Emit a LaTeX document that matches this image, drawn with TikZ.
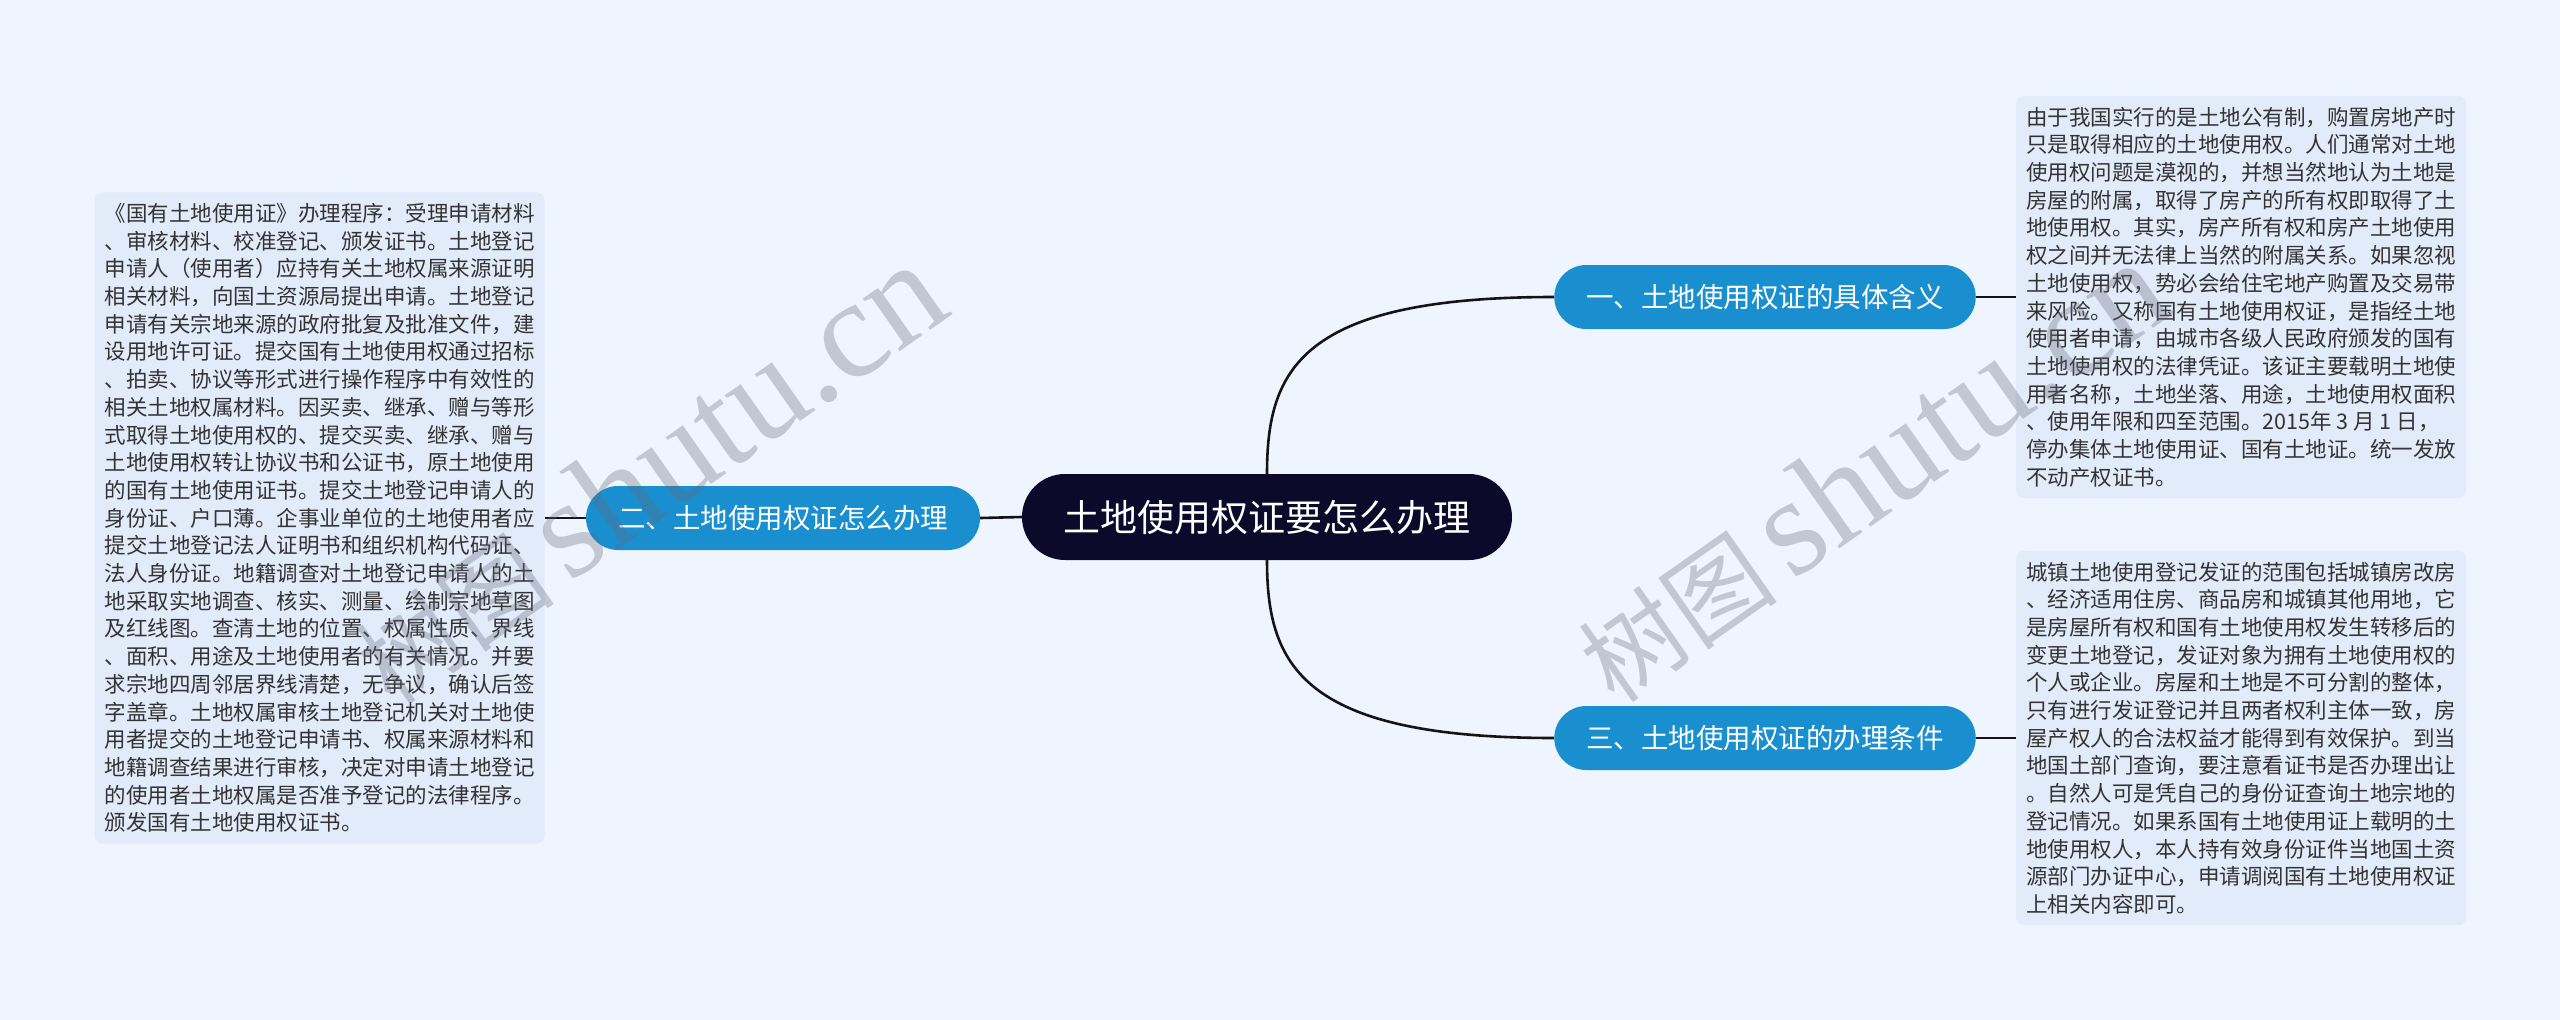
\documentclass[tikz,border=0pt]{standalone}
\usepackage{fontspec}
\setmainfont{Noto Sans CJK SC}
\newfontfamily\wmfont{Liberation Serif}
\usetikzlibrary{positioning}
\definecolor{bgblue}{HTML}{EFF5FE}
\definecolor{boxblue}{HTML}{E2EBFA}
\definecolor{nodeblue}{HTML}{1A8FD0}
\definecolor{rootnavy}{HTML}{0B0A2A}
\definecolor{txtgray}{HTML}{333333}
\definecolor{wmgray}{RGB}{100,104,118}
\begin{document}
\begin{tikzpicture}[x=1pt,y=-1pt]
    \tikzset{
      root/.style={fill=rootnavy,text=white,rounded corners=43pt,
        minimum width=490pt,minimum height=86pt,inner sep=0pt,
        font=\fontsize{37}{44}\selectfont},
      branch/.style={fill=nodeblue,text=white,rounded corners=32pt,
        minimum height=64pt,inner xsep=32pt,inner ysep=0pt,
        font=\fontsize{27.5}{33}\selectfont},
      textbox/.style={fill=boxblue,text=txtgray,rounded corners=8pt,
        align=left,inner xsep=10pt,inner ysep=11pt,
        font=\fontsize{21.5}{27.7}\selectfont},
      link/.style={line width=2.6pt,black!92},
      wm/.style={text=wmgray,text opacity=0.32,inner sep=0pt}
    }
        %BACKGROUND
        \fill[bgblue] (0,0) rectangle (2560,1020);
        \useasboundingbox (0,0) rectangle (2560,1020);

        %CENTRE AND BRANCHES
        \node[root] (root) at (1267,517) {土地使用权证要怎么办理};
        \node[branch] (b2) at (783,518) {二、土地使用权证怎么办理};
        \node[branch] (b1) at (1765,297) {一、土地使用权证的具体含义};
        \node[branch] (b3) at (1765,738) {三、土地使用权证的办理条件};

        %TEXT BOXES
        \node[textbox,left=41pt of b2] (t2) {《国有土地使用证》办理程序：受理申请材料\\
、审核材料、校准登记、颁发证书。土地登记\\
申请人（使用者）应持有关土地权属来源证明\\
相关材料，向国土资源局提出申请。土地登记\\
申请有关宗地来源的政府批复及批准文件，建\\
设用地许可证。提交国有土地使用权通过招标\\
、拍卖、协议等形式进行操作程序中有效性的\\
相关土地权属材料。因买卖、继承、赠与等形\\
式取得土地使用权的、提交买卖、继承、赠与\\
土地使用权转让协议书和公证书，原土地使用\\
的国有土地使用证书。提交土地登记申请人的\\
身份证、户口薄。企事业单位的土地使用者应\\
提交土地登记法人证明书和组织机构代码证、\\
法人身份证。地籍调查对土地登记申请人的土\\
地采取实地调查、核实、测量、绘制宗地草图\\
及红线图。查清土地的位置、权属性质、界线\\
、面积、用途及土地使用者的有关情况。并要\\
求宗地四周邻居界线清楚，无争议，确认后签\\
字盖章。土地权属审核土地登记机关对土地使\\
用者提交的土地登记申请书、权属来源材料和\\
地籍调查结果进行审核，决定对申请土地登记\\
的使用者土地权属是否准予登记的法律程序。\\
颁发国有土地使用权证书。};

        \node[textbox,right=40pt of b1] (t1) {由于我国实行的是土地公有制，购置房地产时\\
只是取得相应的土地使用权。人们通常对土地\\
使用权问题是漠视的，并想当然地认为土地是\\
房屋的附属，取得了房产的所有权即取得了土\\
地使用权。其实，房产所有权和房产土地使用\\
权之间并无法律上当然的附属关系。如果忽视\\
土地使用权，势必会给住宅地产购置及交易带\\
来风险。又称国有土地使用权证，是指经土地\\
使用者申请，由城市各级人民政府颁发的国有\\
土地使用权的法律凭证。该证主要载明土地使\\
用者名称，土地坐落、用途，土地使用权面积\\
、使用年限和四至范围。2015年 3 月 1 日，\\
停办集体土地使用证、国有土地证。统一发放\\
不动产权证书。};

        \node[textbox,right=40pt of b3] (t3) {城镇土地使用登记发证的范围包括城镇房改房\\
、经济适用住房、商品房和城镇其他用地，它\\
是房屋所有权和国有土地使用权发生转移后的\\
变更土地登记，发证对象为拥有土地使用权的\\
个人或企业。房屋和土地是不可分割的整体，\\
只有进行发证登记并且两者权利主体一致，房\\
屋产权人的合法权益才能得到有效保护。到当\\
地国土部门查询，要注意看证书是否办理出让\\
。自然人可是凭自己的身份证查询土地宗地的\\
登记情况。如果系国有土地使用证上载明的土\\
地使用权人，本人持有效身份证件当地国土资\\
源部门办证中心，申请调阅国有土地使用权证\\
上相关内容即可。};

        %CONNECTORS
        \draw[link] (root.west) -- (b2.east);
        \draw[link] (b2.west) -- (t2.east);
        \draw[link] (b1.east) -- (t1.west);
        \draw[link] (b3.east) -- (t3.west);
        \draw[link] (root.north) .. controls (1267,370) and (1300,297) .. (b1.west);
        \draw[link] (root.south) .. controls (1267,664) and (1300,738) .. (b3.west);

        %WATERMARKS
        \node[wm,rotate=35,anchor=base west] (wm1) at (392,708)
          {\fontsize{100}{100}\selectfont 树图\,{\wmfont\fontsize{140}{140}\selectfont shutu.cn}};
        \node[wm,rotate=35,anchor=base west] (wm2) at (1615,706)
          {\fontsize{100}{100}\selectfont 树图\,{\wmfont\fontsize{140}{140}\selectfont shutu.cn}};
    \end{tikzpicture}
\end{document}
